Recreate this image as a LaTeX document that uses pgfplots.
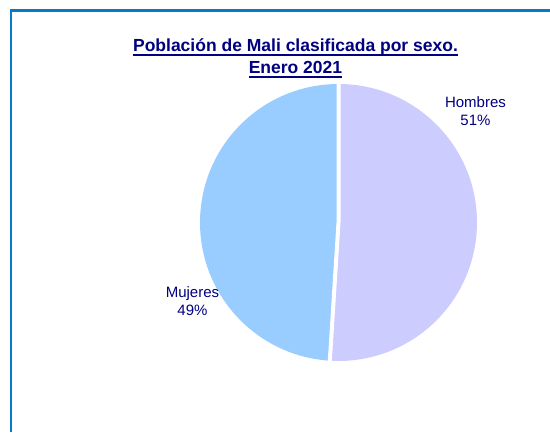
\documentclass[border=0pt]{standalone}
\usepackage{pgfplots}
\pgfplotsset{compat=1.18}
\usepackage{pgfplotstable}
\usepackage{fontspec}
\setmainfont{Liberation Sans}
\definecolor{frameblue}{HTML}{0A78C8}
\definecolor{navy}{HTML}{000080}
\definecolor{hcol}{HTML}{CCCCFF}
\definecolor{mcol}{HTML}{99CCFF}
\newcommand\ul[1]{\setbox0=\hbox{#1}\rlap{\copy0}\rule[-3.6pt]{\wd0}{1.4pt}}
\pgfplotstableread{
label value
Hombres 51
Mujeres 49
}\pietable
\begin{document}
\begin{tikzpicture}[x=1pt,y=1pt]
\useasboundingbox (0pt,0pt) rectangle (550pt,432pt);
\draw[frameblue, line width=2.6pt] (11pt,0pt) -- (11pt,421.5pt) -- (550pt,421.5pt);
\pgfplotstablegetelem{0}{value}\of\pietable \let\vH\pgfplotsretval
\pgfplotstablegetelem{1}{value}\of\pietable \let\vM\pgfplotsretval
\pgfmathsetmacro\aH{90-3.6*\vH}
\pgfmathsetmacro\aM{\aH-3.6*\vM}
\begin{axis}[
  hide axis, scale only axis,
  width=550pt, height=432pt,
  xmin=-2.444043, xmax=1.527076, ymin=-1.512635, ymax=1.606498,
  at={(0pt,0pt)}, anchor=south west,
  clip=false,
]
\addplot[draw=none] coordinates {(0,0)};
\fill[hcol] (axis cs:0,0) -- (axis cs:0,1) arc[start angle=90, end angle=\aH, radius=138.5pt] -- cycle;
\fill[mcol] (axis cs:0,0) -- (axis cs:{cos(\aH)},{sin(\aH)}) arc[start angle=\aH, end angle=\aM, radius=138.5pt] -- cycle;
\draw[white, line width=4pt] (axis cs:0,1.02) -- (axis cs:0,0) -- (axis cs:{1.02*cos(\aH)},{1.02*sin(\aH)});
\end{axis}
\node[navy, font=\fontsize{15}{18}\selectfont, align=center, anchor=base] at (475.5pt,306.3pt) {Hombres\\\vH\%};
\node[navy, font=\fontsize{15}{18}\selectfont, align=center, anchor=base] at (192.5pt,117pt) {Mujeres\\\vM\%};
\node[navy, font=\bfseries\fontsize{17.5}{22}\selectfont, align=center, anchor=base] at (295.5pt,358pt) {\ul{Población de Mali clasificada por sexo.}\\\ul{Enero 2021}};
\end{tikzpicture}
\end{document}
